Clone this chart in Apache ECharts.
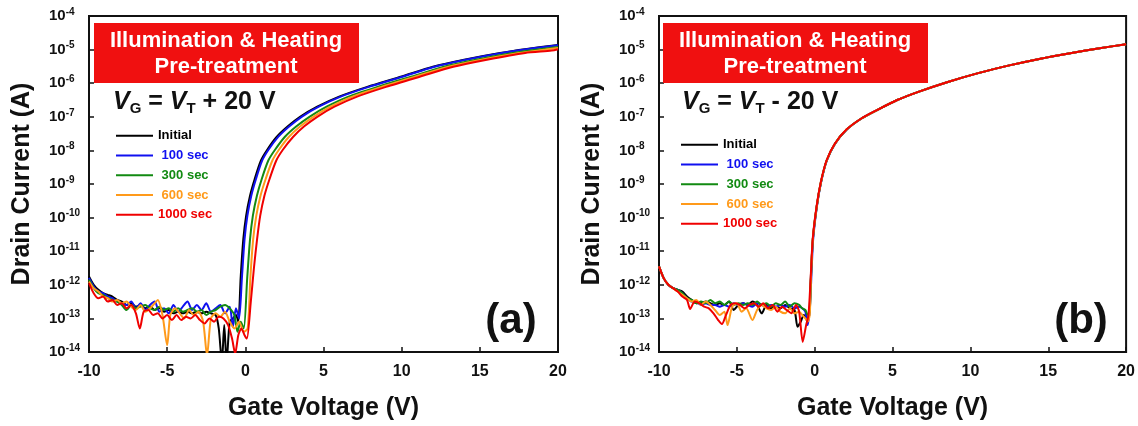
<!DOCTYPE html>
<html><head><meta charset="utf-8">
<script src="https://cdn.jsdelivr.net/npm/echarts@6/dist/echarts.min.js"></script>
<style>html,body{margin:0;padding:0;background:#fff}#c{width:1138px;height:426px}</style>
</head><body><div id="c"></div><script>
// ---- data (x = gate voltage V, y = log10 of drain current A) ----
const seriesNames = ['Initial', ' 100 sec', ' 300 sec', ' 600 sec', '1000 sec'];
const seriesColors = ['#000000', '#1010f0', '#128a12', '#ff9a1a', '#f00000'];
const xTicks = [-10, -5, 0, 5, 10, 15, 20];
const yExponents = [-14, -13, -12, -11, -10, -9, -8, -7, -6, -5, -4];

// Panel (a): VG = VT + 20 V
const aInitial = [[-10,-11.75],[-9.7,-12.0],[-9.4,-12.15],[-9.1,-12.25],[-8.8,-12.3],[-8.5,-12.35],[-8.2,-12.45],[-7.9,-12.5],[-7.6,-12.6],[-7.3,-12.55],[-7.0,-12.65],[-6.7,-12.6],[-6.4,-12.7],[-6.1,-12.65],[-5.8,-12.75],[-5.5,-12.7],[-5.2,-12.8],[-4.9,-12.75],[-4.6,-12.85],[-4.3,-12.8],[-4.0,-12.85],[-3.7,-12.8],[-3.4,-12.85],[-3.1,-12.8],[-2.8,-12.85],[-2.5,-12.8],[-2.2,-12.85],[-1.9,-12.9],[-1.7,-13.3],[-1.5,-14.3],[-1.35,-13.2],[-1.2,-14.3],[-1.0,-13.1],[-0.8,-13.0],[-0.6,-12.9],[-0.45,-13.1],[-0.3,-11.8],[-0.13,-10.65],[0.05,-9.95],[0.3,-9.35],[0.6,-8.85],[1.0,-8.3],[1.4,-7.98],[2.0,-7.6],[2.7,-7.29],[3.5,-7.0],[4.6,-6.7],[6.0,-6.4],[7.8,-6.11],[10.0,-5.8],[12.0,-5.51],[14.0,-5.3],[16.3,-5.1],[18.0,-4.98],[20.0,-4.86]];
const a100 = [[-10,-11.8],[-9.7,-12.05],[-9.4,-12.2],[-9.1,-12.25],[-8.8,-12.35],[-8.5,-12.4],[-8.2,-12.5],[-7.9,-12.55],[-7.6,-12.6],[-7.3,-12.5],[-7.0,-12.7],[-6.7,-12.55],[-6.4,-12.75],[-6.1,-12.6],[-5.8,-12.5],[-5.5,-12.8],[-5.2,-12.7],[-4.9,-12.85],[-4.6,-12.6],[-4.3,-12.8],[-4.0,-12.65],[-3.7,-12.5],[-3.4,-12.75],[-3.1,-12.6],[-2.8,-12.75],[-2.5,-12.55],[-2.2,-12.8],[-1.9,-12.7],[-1.6,-12.6],[-1.3,-12.85],[-1.0,-12.65],[-0.8,-13.25],[-0.6,-12.7],[-0.4,-13.0],[-0.22,-11.8],[-0.05,-10.65],[0.13,-9.95],[0.38,-9.35],[0.68,-8.85],[1.08,-8.3],[1.48,-7.98],[2.1,-7.6],[2.8,-7.29],[3.6,-7.0],[4.7,-6.7],[6.1,-6.4],[7.9,-6.11],[10.1,-5.8],[12.1,-5.51],[14.1,-5.3],[16.4,-5.1],[18.1,-4.98],[20.0,-4.87]];
const a300 = [[-10,-11.85],[-9.7,-12.1],[-9.4,-12.25],[-9.1,-12.3],[-8.8,-12.4],[-8.5,-12.45],[-8.2,-12.5],[-7.9,-12.6],[-7.6,-12.75],[-7.3,-12.6],[-7.0,-12.7],[-6.7,-12.65],[-6.4,-12.6],[-6.1,-12.7],[-5.8,-12.75],[-5.5,-12.65],[-5.2,-12.75],[-4.9,-12.7],[-4.6,-12.8],[-4.3,-12.7],[-4.0,-12.8],[-3.7,-12.75],[-3.4,-12.7],[-3.1,-12.8],[-2.8,-12.75],[-2.5,-12.9],[-2.2,-12.8],[-1.9,-12.75],[-1.6,-12.65],[-1.3,-12.6],[-1.0,-12.7],[-0.7,-12.9],[-0.5,-13.4],[-0.3,-13.1],[-0.1,-13.3],[0.12,-11.8],[0.3,-10.65],[0.48,-9.95],[0.74,-9.35],[1.05,-8.85],[1.47,-8.3],[1.9,-7.98],[2.52,-7.6],[3.25,-7.29],[4.1,-7.0],[5.2,-6.7],[6.6,-6.4],[8.45,-6.11],[10.65,-5.8],[12.7,-5.51],[14.75,-5.3],[17.1,-5.1],[18.8,-4.99],[20.0,-4.92]];
const a600 = [[-10,-11.9],[-9.7,-12.1],[-9.4,-12.2],[-9.1,-12.35],[-8.8,-12.4],[-8.5,-12.5],[-8.2,-12.45],[-7.9,-12.55],[-7.6,-12.5],[-7.3,-12.65],[-7.0,-12.75],[-6.7,-12.6],[-6.4,-12.8],[-6.1,-12.7],[-5.8,-12.55],[-5.6,-12.45],[-5.3,-12.9],[-5.0,-13.8],[-4.8,-12.9],[-4.5,-12.7],[-4.2,-12.85],[-3.9,-13.0],[-3.6,-12.75],[-3.3,-12.9],[-3.0,-12.8],[-2.7,-13.1],[-2.45,-14.1],[-2.2,-13.0],[-1.9,-12.85],[-1.6,-12.95],[-1.3,-12.8],[-1.0,-13.1],[-0.7,-13.3],[-0.4,-13.1],[-0.1,-13.4],[0.15,-13.3],[0.32,-11.8],[0.5,-10.65],[0.7,-9.95],[0.97,-9.35],[1.3,-8.85],[1.73,-8.3],[2.15,-7.98],[2.78,-7.6],[3.5,-7.29],[4.35,-7.0],[5.45,-6.7],[6.85,-6.4],[8.7,-6.11],[10.9,-5.8],[13.0,-5.51],[15.1,-5.3],[17.5,-5.1],[19.2,-5.0],[20.0,-4.95]];
const a1000 = [[-10,-11.95],[-9.7,-12.25],[-9.4,-12.4],[-9.1,-12.35],[-8.8,-12.5],[-8.5,-12.45],[-8.2,-12.6],[-7.9,-12.55],[-7.6,-12.7],[-7.3,-12.6],[-7.0,-12.85],[-6.75,-13.3],[-6.5,-12.8],[-6.2,-12.75],[-5.9,-12.9],[-5.6,-12.85],[-5.3,-13.0],[-5.0,-12.9],[-4.7,-13.05],[-4.4,-12.9],[-4.1,-13.05],[-3.8,-12.95],[-3.5,-13.0],[-3.2,-12.9],[-2.9,-13.05],[-2.6,-13.15],[-2.3,-13.0],[-2.0,-13.1],[-1.7,-12.95],[-1.4,-13.0],[-1.1,-13.2],[-0.85,-13.6],[-0.65,-14.05],[-0.45,-13.5],[-0.25,-13.3],[-0.05,-13.5],[0.1,-13.6],[0.35,-12.5],[0.55,-11.5],[0.75,-10.65],[0.95,-9.95],[1.22,-9.35],[1.55,-8.85],[1.98,-8.3],[2.4,-7.98],[3.05,-7.6],[3.75,-7.29],[4.6,-7.0],[5.7,-6.7],[7.15,-6.4],[9.0,-6.11],[11.2,-5.8],[13.3,-5.51],[15.45,-5.3],[17.9,-5.1],[19.6,-5.03],[20.0,-4.99]];

// Panel (b): VG = VT - 20 V
const bInitial = [[-10,-11.45],[-9.7,-11.8],[-9.4,-12.0],[-9.1,-12.1],[-8.8,-12.15],[-8.5,-12.2],[-8.2,-12.35],[-7.9,-12.45],[-7.6,-12.55],[-7.3,-12.55],[-7.0,-12.5],[-6.7,-12.55],[-6.4,-12.6],[-6.1,-12.55],[-5.8,-12.6],[-5.5,-12.5],[-5.2,-12.75],[-4.9,-12.6],[-4.6,-12.55],[-4.3,-12.6],[-4.0,-12.5],[-3.7,-12.6],[-3.4,-12.85],[-3.1,-12.6],[-2.8,-12.7],[-2.5,-12.65],[-2.2,-12.7],[-1.9,-12.6],[-1.6,-12.7],[-1.3,-12.75],[-1.1,-13.25],[-0.9,-13.1],[-0.7,-12.9],[-0.5,-13.0],[-0.35,-12.9],[-0.25,-11.8],[-0.12,-10.65],[0.13,-9.67],[0.4,-8.95],[0.77,-8.3],[1.3,-7.8],[2.05,-7.38],[3.0,-7.05],[4.0,-6.8],[5.3,-6.5],[6.7,-6.25],[8.5,-5.97],[10.5,-5.7],[12.5,-5.47],[14.5,-5.27],[16.5,-5.1],[18.3,-4.96],[20.0,-4.84]];
const b100 = [[-10,-11.45],[-9.7,-11.8],[-9.4,-12.0],[-9.1,-12.1],[-8.8,-12.15],[-8.5,-12.25],[-8.2,-12.4],[-7.9,-12.5],[-7.6,-12.5],[-7.3,-12.6],[-7.0,-12.55],[-6.7,-12.6],[-6.4,-12.6],[-6.1,-12.65],[-5.8,-12.6],[-5.5,-12.65],[-5.2,-12.55],[-4.9,-12.6],[-4.6,-12.55],[-4.3,-12.6],[-4.0,-12.65],[-3.7,-12.55],[-3.4,-12.6],[-3.1,-12.65],[-2.8,-12.6],[-2.5,-12.65],[-2.2,-12.6],[-1.9,-12.65],[-1.6,-12.6],[-1.3,-12.7],[-1.0,-12.65],[-0.8,-12.7],[-0.6,-12.8],[-0.45,-13.2],[-0.3,-12.6],[-0.2,-11.6],[-0.1,-10.65],[0.14,-9.67],[0.41,-8.95],[0.78,-8.3],[1.31,-7.8],[2.06,-7.38],[3.0,-7.05],[4.0,-6.8],[5.3,-6.5],[6.7,-6.25],[8.5,-5.97],[10.5,-5.7],[12.5,-5.47],[14.5,-5.27],[16.5,-5.1],[18.3,-4.96],[20.0,-4.84]];
const b300 = [[-10,-11.45],[-9.7,-11.8],[-9.4,-12.0],[-9.1,-12.1],[-8.8,-12.15],[-8.5,-12.25],[-8.2,-12.4],[-7.9,-12.45],[-7.6,-12.55],[-7.3,-12.5],[-7.0,-12.55],[-6.7,-12.45],[-6.4,-12.55],[-6.1,-12.5],[-5.8,-12.6],[-5.5,-12.5],[-5.2,-12.6],[-4.9,-12.55],[-4.6,-12.6],[-4.3,-12.55],[-4.0,-12.6],[-3.7,-12.5],[-3.4,-12.6],[-3.1,-12.55],[-2.8,-12.65],[-2.5,-12.55],[-2.2,-12.6],[-1.9,-12.5],[-1.6,-12.65],[-1.3,-12.55],[-1.0,-12.6],[-0.8,-12.7],[-0.6,-12.75],[-0.45,-12.9],[-0.32,-12.8],[-0.24,-11.8],[-0.12,-10.65],[0.13,-9.67],[0.4,-8.95],[0.77,-8.3],[1.3,-7.8],[2.05,-7.38],[3.0,-7.05],[4.0,-6.8],[5.3,-6.5],[6.7,-6.25],[8.5,-5.97],[10.5,-5.7],[12.5,-5.47],[14.5,-5.27],[16.5,-5.1],[18.3,-4.96],[20.0,-4.84]];
const b600 = [[-10,-11.45],[-9.7,-11.8],[-9.4,-12.0],[-9.1,-12.1],[-8.8,-12.2],[-8.5,-12.3],[-8.2,-12.4],[-7.9,-12.5],[-7.6,-12.45],[-7.3,-12.6],[-7.0,-12.5],[-6.7,-12.6],[-6.4,-12.75],[-6.1,-12.9],[-5.8,-12.8],[-5.6,-13.2],[-5.3,-12.65],[-5.0,-12.55],[-4.7,-12.8],[-4.4,-12.7],[-4.0,-13.05],[-3.7,-12.75],[-3.4,-12.6],[-3.1,-12.7],[-2.8,-12.75],[-2.5,-12.65],[-2.2,-12.8],[-1.9,-12.85],[-1.6,-12.7],[-1.3,-12.85],[-1.0,-12.8],[-0.8,-12.9],[-0.6,-13.0],[-0.45,-13.1],[-0.32,-12.9],[-0.24,-11.8],[-0.12,-10.65],[0.13,-9.67],[0.4,-8.95],[0.77,-8.3],[1.3,-7.8],[2.05,-7.38],[3.0,-7.05],[4.0,-6.8],[5.3,-6.5],[6.7,-6.25],[8.5,-5.97],[10.5,-5.7],[12.5,-5.47],[14.5,-5.27],[16.5,-5.1],[18.3,-4.96],[20.0,-4.84]];
const b1000 = [[-10,-11.45],[-9.7,-11.8],[-9.4,-12.0],[-9.1,-12.1],[-8.8,-12.2],[-8.5,-12.35],[-8.2,-12.45],[-8.0,-12.72],[-7.7,-12.5],[-7.4,-12.55],[-7.1,-12.65],[-6.8,-12.7],[-6.5,-12.85],[-6.2,-13.05],[-5.96,-13.17],[-5.7,-12.9],[-5.4,-12.6],[-5.1,-12.55],[-4.8,-12.6],[-4.5,-12.7],[-4.2,-12.6],[-3.9,-12.55],[-3.6,-12.65],[-3.3,-12.55],[-3.0,-12.7],[-2.7,-12.6],[-2.4,-12.8],[-2.1,-12.65],[-1.8,-12.75],[-1.5,-12.85],[-1.2,-12.6],[-1.0,-12.8],[-0.77,-13.7],[-0.55,-13.2],[-0.4,-12.9],[-0.26,-11.8],[-0.13,-10.65],[0.12,-9.67],[0.39,-8.95],[0.76,-8.3],[1.29,-7.8],[2.04,-7.38],[3.0,-7.05],[4.0,-6.8],[5.3,-6.5],[6.7,-6.25],[8.5,-5.97],[10.5,-5.7],[12.5,-5.47],[14.5,-5.27],[16.5,-5.1],[18.3,-4.96],[20.0,-4.84]];

const panelA = [aInitial, a100, a300, a600, a1000];
const panelB = [bInitial, b100, b300, b600, b1000];

// ---- chart ----
const FONT = '"Liberation Sans", Arial, Helvetica, sans-serif';

function xAxisFor(gi) {
  return {
    gridIndex: gi, type: 'value', min: xTicks[0], max: xTicks[xTicks.length - 1], interval: 5,
    name: 'Gate Voltage (V)', nameLocation: 'middle', nameGap: 44,
    nameTextStyle: { fontSize: 25, fontWeight: 'bold', fontFamily: FONT, color: '#111' },
    axisLine: { onZero: false, lineStyle: { color: '#111', width: 2 } },
    axisTick: { inside: true, length: 5, lineStyle: { color: '#111', width: 1.5 } },
    axisLabel: { margin: 12, fontSize: 16, fontWeight: 'bold', fontFamily: FONT, color: '#111' },
    splitLine: { show: false }
  };
}
function yAxisFor(gi) {
  return {
    // value axis in decades (log10 of current), labelled as powers of ten
    gridIndex: gi, type: 'value',
    min: yExponents[0], max: yExponents[yExponents.length - 1], interval: 1,
    name: 'Drain Current (A)', nameLocation: 'middle', nameGap: 54,
    nameTextStyle: { fontSize: 25, fontWeight: 'bold', fontFamily: FONT, color: '#111' },
    axisLine: { onZero: false, lineStyle: { color: '#111', width: 2 } },
    axisTick: { inside: true, length: 5, lineStyle: { color: '#111', width: 1.5 } },
    axisLabel: {
      margin: 40, align: 'left',
      formatter: v => '{b|10}{s|' + Math.round(v) + '}',
      rich: {
        b: { fontSize: 15, fontWeight: 'bold', fontFamily: FONT, color: '#111', lineHeight: 18 },
        s: { fontSize: 10, fontWeight: 'bold', fontFamily: FONT, color: '#111', lineHeight: 10, verticalAlign: 'top' }
      }
    },
    splitLine: { show: false }
  };
}

const series = [];
[panelA, panelB].forEach((panel, gi) => {
  panel.forEach((d, i) => {
    series.push({
      name: seriesNames[i], type: 'line', xAxisIndex: gi, yAxisIndex: gi,
      data: d, symbol: 'none', smooth: 0.25,
      lineStyle: { color: seriesColors[i], width: 2 }, itemStyle: { color: seriesColors[i] },
      z: 2 + i
    });
  });
});

function legendFor(left, top) {
  return {
    left: left, top: top, orient: 'vertical', padding: 0, itemGap: 0,
    itemWidth: 37, itemHeight: 2, icon: 'rect', selectedMode: false,
    textStyle: { fontSize: 13, fontWeight: 'bold', fontFamily: FONT, lineHeight: 19.7 },
    data: seriesNames.map((n, i) => ({ name: n, textStyle: { color: seriesColors[i] } }))
  };
}

function panelGraphics(x0, sign) {
  return [
    { type: 'rect', left: x0, top: 23, shape: { width: 265, height: 60 }, style: { fill: '#f01010' }, z: 10 },
    { type: 'text', x: x0 + 132, y: 41, style: { text: 'Illumination & Heating', fill: '#fff', font: 'bold 22px ' + FONT, align: 'center', verticalAlign: 'middle' }, z: 11 },
    { type: 'text', x: x0 + 132, y: 67, style: { text: 'Pre-treatment', fill: '#fff', font: 'bold 22px ' + FONT, align: 'center', verticalAlign: 'middle' }, z: 11 },
    { type: 'text', x: x0 + 19, y: 102, z: 11, style: {
        text: '{v|V}{sub|G}{t| = }{v|V}{sub|T}{t| ' + sign + ' 20 V}',
        verticalAlign: 'middle',
        rich: {
          v: { fontSize: 25, fontWeight: 'bold', fontStyle: 'italic', fontFamily: FONT, fill: '#111', lineHeight: 28 },
          t: { fontSize: 25, fontWeight: 'bold', fontFamily: FONT, fill: '#111', lineHeight: 28 },
          sub: { fontSize: 15, fontWeight: 'bold', fontFamily: FONT, fill: '#111', lineHeight: 14, verticalAlign: 'bottom' }
        } } }
  ];
}

const option = {
  animation: false,
  backgroundColor: '#fff',
  grid: [
    { left: 89, top: 16, width: 469, height: 337, show: true, borderColor: '#111', borderWidth: 2, backgroundColor: 'transparent' },
    { left: 659, top: 16, width: 468, height: 337, show: true, borderColor: '#111', borderWidth: 2, backgroundColor: 'transparent' }
  ],
  xAxis: [xAxisFor(0), xAxisFor(1)],
  yAxis: [yAxisFor(0), yAxisFor(1)],
  legend: [legendFor(116, 126), legendFor(681, 135)],
  series: series,
  graphic: [].concat(panelGraphics(94, '+'), panelGraphics(663, '-'), [
    { type: 'text', x: 511, y: 321, z: 11, style: { text: '(a)', font: 'bold 42px ' + FONT, fill: '#111', align: 'center', verticalAlign: 'middle' } },
    { type: 'text', x: 1081, y: 321, z: 11, style: { text: '(b)', font: 'bold 42px ' + FONT, fill: '#111', align: 'center', verticalAlign: 'middle' } }
  ])
};

const chart = echarts.init(document.getElementById('c'), null, { renderer: 'canvas' });
chart.setOption(option);
</script></body></html>
